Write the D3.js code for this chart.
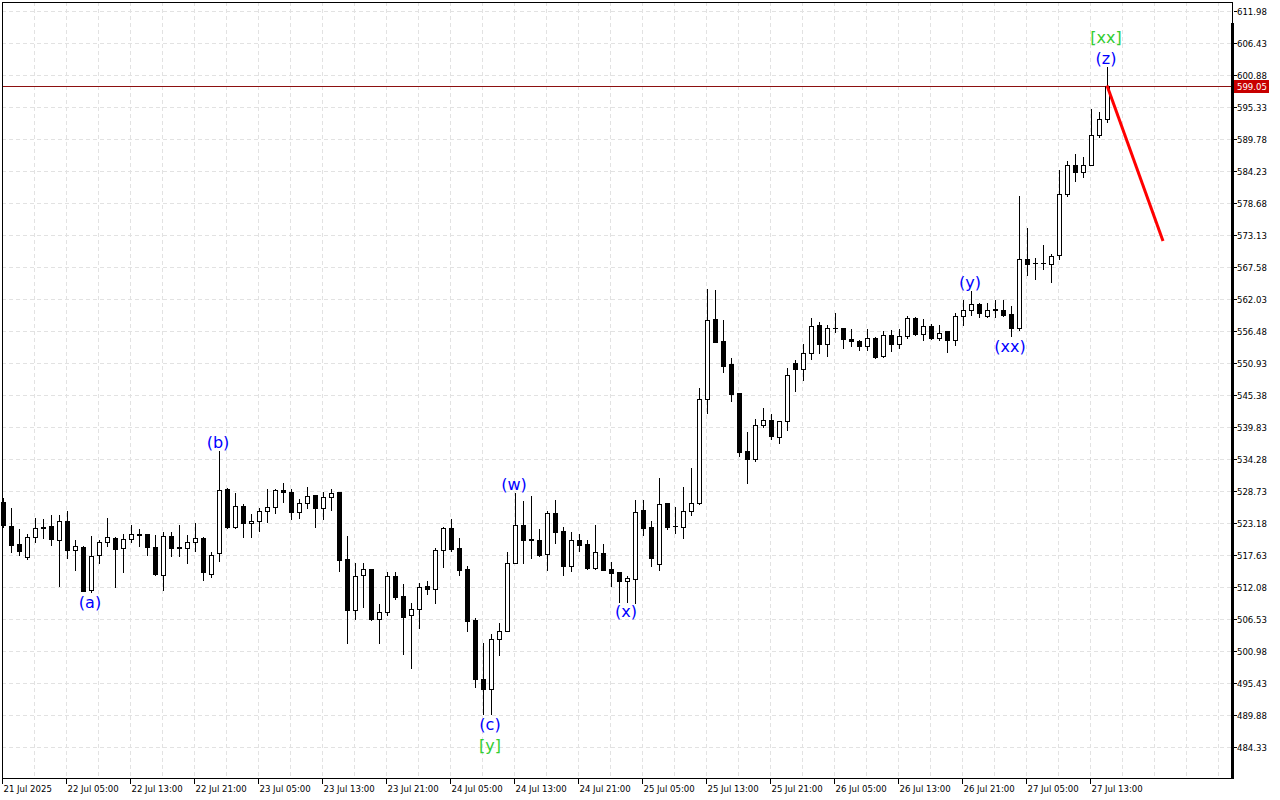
<!DOCTYPE html>
<html>
<head>
<meta charset="utf-8">
<script src="https://cdn.jsdelivr.net/npm/d3@7"></script>
<style>
  html, body { margin: 0; padding: 0; background: #fff; }
  svg { display: block; }
  .axis-txt { font-family: "DejaVu Sans Condensed", "DejaVu Sans", sans-serif; font-size: 9.5px; fill: #000; }
  .wave { font-family: "DejaVu Sans", sans-serif; font-size: 16px; }
</style>
</head>
<body>
<svg></svg>
<script>
// H1 candles, 21 Jul 21:00 -> 27 Jul 15:00
const opens = [
  526.8, 522.7, 519.5, 517.2, 520.8, 522.5, 522.6, 520.3, 523.45, 518.55,
  519.1, 511.5, 517.7, 519.9, 520.6, 518.8, 520.45, 521.25, 521.2, 519.05,
  514.2, 520.95, 518.95, 518.9, 519.9, 520.6, 514.35, 518.0, 529.0, 522.5,
  526.2, 523.25, 523.6, 525.3, 525.9, 528.9, 528.55, 525.1, 526.65, 527.95,
  525.8, 527.7, 528.5, 517.0, 508.15, 514.1, 515.15, 506.6, 507.8, 514.05,
  510.45, 507.3, 508.3, 512.2, 511.8, 518.45, 522.35, 518.9, 515.15, 506.3,
  496.2, 494.45, 503.1, 504.5, 516.3, 522.9, 520.35, 520.3, 517.85, 524.95,
  521.75, 515.7, 520.15, 519.5, 515.4, 517.9, 515.15, 514.6, 513.2, 513.55,
  525.35, 522.4, 516.0, 526.6, 522.65, 522.4, 525.3, 526.6, 544.6, 558.6,
  554.8, 550.7, 545.65, 535.6, 534.25, 540.25, 541.1, 538.15, 540.9, 551.0,
  549.9, 552.7, 557.6, 554.25, 557.05, 557.0, 555.1, 554.8, 553.85, 555.35,
  552.1, 555.7, 554.25, 555.6, 558.75, 555.9, 557.35, 555.2, 556.4, 554.95,
  559.05, 560.2, 561.2, 559.05, 560.25, 560.2, 559.4, 557.05, 569.0, 568.3,
  568.2, 568.15, 569.6, 580.3, 585.3, 584.1, 585.3, 590.5, 593.3
];
const highs = [
  527.5, 525.8, 522.2, 521.3, 524.1, 523.9, 524.5, 524.6, 525.2, 520.2,
  519.2, 521.0, 520.2, 524.1, 520.7, 521.3, 522.9, 522.2, 521.3, 521.1,
  521.6, 521.6, 522.75, 521.1, 523.1, 520.75, 518.15, 535.6, 529.3, 528.45,
  526.4, 524.8, 525.8, 529.15, 529.15, 530.05, 529.0, 527.35, 529.5, 528.0,
  528.5, 529.0, 528.6, 520.9, 516.25, 516.25, 515.2, 509.2, 514.6, 514.6,
  512.55, 509.35, 512.85, 513.1, 518.9, 522.4, 523.95, 520.65, 515.7, 506.75,
  502.3, 503.85, 505.9, 518.15, 528.35, 527.0, 527.8, 522.1, 525.25, 527.1,
  522.55, 521.7, 521.35, 520.15, 522.8, 519.5, 516.45, 514.65, 514.0, 527.25,
  527.1, 523.6, 531.0, 526.65, 525.9, 529.45, 532.7, 546.55, 563.8, 563.65,
  558.3, 551.85, 545.7, 538.9, 541.3, 543.2, 542.05, 540.95, 550.0, 551.4,
  554.3, 558.65, 558.05, 557.55, 559.65, 557.05, 556.85, 554.95, 556.85, 555.45,
  556.45, 556.6, 556.8, 559.0, 558.9, 558.55, 557.7, 557.55, 556.45, 559.65,
  561.8, 563.4, 561.25, 561.35, 561.8, 561.8, 560.75, 579.85, 574.35, 569.15,
  571.35, 569.9, 584.35, 586.0, 587.1, 586.65, 594.9, 594.45, 602.25
];
const lows = [
  522.5, 518.1, 517.7, 517.0, 519.9, 520.5, 519.3, 512.3, 517.1, 515.0,
  511.3, 511.2, 516.2, 519.2, 512.1, 514.6, 519.8, 519.2, 517.7, 514.1,
  511.6, 517.45, 517.45, 516.3, 518.3, 513.3, 513.8, 516.6, 522.35, 522.25,
  520.75, 520.75, 521.8, 523.3, 524.9, 526.8, 523.95, 524.0, 525.8, 522.45,
  523.8, 525.5, 514.85, 502.4, 506.5, 508.65, 506.35, 502.4, 507.15, 509.95,
  500.4, 498.0, 504.95, 510.8, 509.35, 515.55, 518.3, 514.1, 504.45, 494.8,
  490.0, 490.0, 500.3, 504.45, 516.25, 516.25, 517.15, 517.45, 515.1, 519.75,
  514.1, 514.85, 518.3, 515.15, 515.15, 514.95, 512.25, 509.55, 509.5, 509.35,
  521.1, 515.7, 515.1, 522.1, 521.5, 520.65, 524.55, 526.5, 542.25, 554.5,
  549.35, 544.35, 534.85, 530.2, 534.0, 539.75, 537.7, 537.0, 539.3, 546.05,
  548.0, 551.7, 552.6, 552.1, 556.3, 553.45, 553.85, 553.25, 553.15, 551.75,
  552.0, 553.0, 553.6, 555.25, 555.7, 554.85, 555.1, 555.0, 552.8, 554.1,
  557.6, 559.3, 558.9, 558.9, 558.9, 559.05, 555.6, 556.6, 566.25, 565.55,
  567.3, 565.0, 569.0, 579.9, 582.5, 583.2, 585.2, 590.1, 592.7
];
const closes = [
  522.9, 519.3, 518.3, 520.8, 522.35, 522.35, 520.4, 523.45, 518.5, 519.25,
  511.4, 517.5, 519.9, 520.75, 518.7, 520.45, 521.25, 521.05, 519.0, 514.3,
  520.95, 518.9, 518.9, 519.9, 520.55, 514.6, 517.7, 528.9, 522.5, 526.15,
  523.15, 523.6, 525.3, 526.0, 528.9, 528.5, 525.05, 526.65, 527.9, 525.75,
  527.7, 528.4, 516.75, 508.1, 514.0, 515.15, 506.55, 507.75, 514.05, 510.3,
  506.9, 508.3, 512.15, 511.8, 518.45, 522.3, 518.75, 515.05, 506.2, 496.2,
  494.4, 503.1, 504.5, 516.3, 522.9, 520.3, 520.3, 517.7, 524.95, 521.7,
  515.7, 520.15, 519.4, 515.3, 518.1, 515.1, 514.5, 513.2, 513.6, 525.15,
  522.35, 517.1, 526.55, 522.5, 522.6, 525.3, 526.7, 544.6, 558.45, 554.65,
  550.4, 545.5, 535.5, 534.3, 540.25, 541.1, 538.3, 540.95, 548.9, 549.9,
  552.7, 557.4, 554.2, 557.0, 557.0, 555.05, 554.7, 553.85, 555.3, 552.0,
  555.8, 554.2, 555.6, 558.75, 555.9, 557.35, 555.2, 556.15, 554.95, 559.05,
  560.2, 561.2, 559.6, 560.2, 560.15, 559.2, 557.05, 569.0, 568.15, 568.25,
  568.3, 569.45, 580.3, 585.3, 584.1, 585.3, 590.5, 593.3, 599.05
];

const priceTicks = [611.98, 606.43, 600.88, 595.33, 589.78, 584.23, 578.68, 573.13,
  567.58, 562.03, 556.48, 550.93, 545.38, 539.83, 534.28, 528.73, 523.18, 517.63,
  512.08, 506.53, 500.98, 495.43, 489.88, 484.33];

const timeTickBars = [0, 8, 16, 24, 32, 40, 48, 56, 64, 72, 80, 88, 96, 104, 112, 120, 128, 136];
const timeTickLabels = ['21 Jul 2025', '22 Jul 05:00', '22 Jul 13:00', '22 Jul 21:00',
  '23 Jul 05:00', '23 Jul 13:00', '23 Jul 21:00', '24 Jul 05:00', '24 Jul 13:00',
  '24 Jul 21:00', '25 Jul 05:00', '25 Jul 13:00', '25 Jul 21:00', '26 Jul 05:00',
  '26 Jul 13:00', '26 Jul 21:00', '27 Jul 05:00', '27 Jul 13:00'];

const lastPrice = 599.05;

// wave marks: bar index, text, degree, anchored to high or low
const waveBars = [11, 27, 61, 61, 64, 78, 121, 126, 138, 138];
const waveTexts = ['(a)', '(b)', '(c)', '[y]', '(w)', '(x)', '(y)', '(xx)', '(z)', '[xx]'];
const waveDegree = ['minor', 'minor', 'minor', 'inter', 'minor', 'minor', 'minor', 'minor', 'minor', 'inter'];
const waveSide = ['low', 'high', 'low', 'low', 'high', 'low', 'high', 'low', 'high', 'high'];

// forecast segment
const forecastBars = [138, 145];
const forecastPrices = [599.05, 572.1];

const width = 1280;
const height = 800;
const plot = { left: 2, top: 2, right: 1232, bottom: 778 };

const svg = d3.select('svg')
    .attr('width', width)
    .attr('height', height);

const x = d3.scaleLinear()
    .domain([0, 153.5])
    .range([3, 1231]);

const y = d3.scaleLinear()
    .domain([478.95, 613.54])
    .range([plot.bottom, plot.top]);

const degreeColor = d3.scaleOrdinal()
    .domain(['minor', 'inter'])
    .range(['#0000ff', '#32cd32']);

// grid
const grid = svg.append('g')
    .attr('class', 'grid')
    .attr('stroke', '#e2e2e2')
    .attr('stroke-dasharray', '4,3')
    .attr('shape-rendering', 'crispEdges');

grid.selectAll('.hgrid').data(priceTicks)
  .enter().append('line')
    .attr('x1', plot.left).attr('x2', plot.right - 1)
    .attr('y1', d => Math.round(y(d)) + 0.5)
    .attr('y2', d => Math.round(y(d)) + 0.5);

const gridBars = d3.range(4, 153, 4);
grid.selectAll('.vgrid').data(gridBars)
  .enter().append('line')
    .attr('x1', d => Math.round(x(d)) - 0.5)
    .attr('x2', d => Math.round(x(d)) - 0.5)
    .attr('y1', plot.top)
    .attr('y2', plot.bottom);

// current price line
svg.append('line')
    .attr('x1', plot.left).attr('x2', plot.right - 1)
    .attr('y1', Math.round(y(lastPrice)) + 0.5)
    .attr('y2', Math.round(y(lastPrice)) + 0.5)
    .attr('stroke', '#8c1010')
    .attr('shape-rendering', 'crispEdges');

// candles
const bars = d3.range(opens.length).map(i => ({
    i, o: opens[i], h: highs[i], l: lows[i], c: closes[i]
}));

const candles = svg.append('g')
    .attr('shape-rendering', 'crispEdges');

const candle = candles.selectAll('g').data(bars)
  .enter().append('g');

candle.append('line')
    .attr('x1', d => Math.round(x(d.i)) + 0.5)
    .attr('x2', d => Math.round(x(d.i)) + 0.5)
    .attr('y1', d => Math.round(y(d.h)))
    .attr('y2', d => Math.round(y(d.l)) + 1)
    .attr('stroke', '#000');

candle.each(function(d) {
    const g = d3.select(this);
    const px = Math.round(x(d.i));
    const top = Math.round(y(Math.max(d.o, d.c)));
    const bot = Math.round(y(Math.min(d.o, d.c)));
    if (d.c < d.o || bot - top < 1) {
        g.append('rect')
            .attr('x', px - 2)
            .attr('y', top)
            .attr('width', 5)
            .attr('height', Math.max(1, bot - top + 1))
            .attr('fill', '#000');
    } else {
        g.append('rect')
            .attr('x', px - 1.5)
            .attr('y', top + 0.5)
            .attr('width', 4)
            .attr('height', bot - top)
            .attr('fill', '#fff')
            .attr('stroke', '#000');
    }
});

// forecast line
const forecast = forecastBars.map((b, k) => [x(b), y(forecastPrices[k])]);
svg.append('path')
    .attr('d', d3.line()(forecast))
    .attr('fill', 'none')
    .attr('stroke', '#ff0000')
    .attr('stroke-width', 3);

// wave labels
const marks = waveBars.map((b, k) => ({
    bar: b, text: waveTexts[k], degree: waveDegree[k], side: waveSide[k]
}));
// stack labels sharing the same bar and side
marks.forEach((m, k) => {
    m.row = marks.slice(0, k).filter(p => p.bar === m.bar && p.side === m.side).length;
});

svg.append('g').selectAll('text').data(marks)
  .enter().append('text')
    .attr('class', 'wave')
    .attr('text-anchor', 'middle')
    .attr('dominant-baseline', 'central')
    .attr('x', d => x(d.bar) - 1)
    .attr('y', d => d.side === 'high'
        ? y(highs[d.bar]) - 9 - d.row * 21
        : y(lows[d.bar]) + 10 + d.row * 21)
    .attr('fill', d => degreeColor(d.degree))
    .text(d => d.text);

// frame
svg.append('rect')
    .attr('x', plot.left + 0.5).attr('y', plot.top + 0.5)
    .attr('width', plot.right - plot.left)
    .attr('height', plot.bottom - plot.top)
    .attr('fill', 'none')
    .attr('stroke', '#000')
    .attr('shape-rendering', 'crispEdges');

svg.append('rect')
    .attr('x', 1231).attr('y', 23)
    .attr('width', 3).attr('height', plot.bottom - 23 + 1)
    .attr('fill', '#000');

// price axis
const yAxis = svg.append('g');
const yTick = yAxis.selectAll('g').data(priceTicks)
  .enter().append('g')
    .attr('transform', d => `translate(0,${Math.round(y(d)) + 0.5})`);
yTick.append('line')
    .attr('x1', 1234).attr('x2', 1237)
    .attr('stroke', '#000')
    .attr('shape-rendering', 'crispEdges');
yTick.append('text')
    .attr('class', 'axis-txt')
    .attr('x', 1237)
    .attr('dy', '0.35em')
    .text(d => d.toFixed(2));

// last price tag
const tagY = Math.round(y(lastPrice));
svg.append('rect')
    .attr('x', 1234).attr('y', tagY - 6)
    .attr('width', 35).attr('height', 13)
    .attr('fill', '#c80000');
svg.append('text')
    .attr('class', 'axis-txt')
    .attr('x', 1237)
    .attr('y', tagY + 0.5)
    .attr('dy', '0.35em')
    .style('fill', '#fff')
    .text(lastPrice.toFixed(2));

// time axis
const xAxis = svg.append('g');
const xTick = xAxis.selectAll('g').data(timeTickBars)
  .enter().append('g')
    .attr('transform', d => `translate(${Math.round(x(d)) - 0.5},0)`);
xTick.append('line')
    .attr('y1', plot.bottom).attr('y2', plot.bottom + 6)
    .attr('stroke', '#000')
    .attr('shape-rendering', 'crispEdges');
xTick.append('text')
    .attr('class', 'axis-txt')
    .attr('x', 1)
    .attr('y', 792)
    .text((d, k) => timeTickLabels[k]);
</script>
</body>
</html>
